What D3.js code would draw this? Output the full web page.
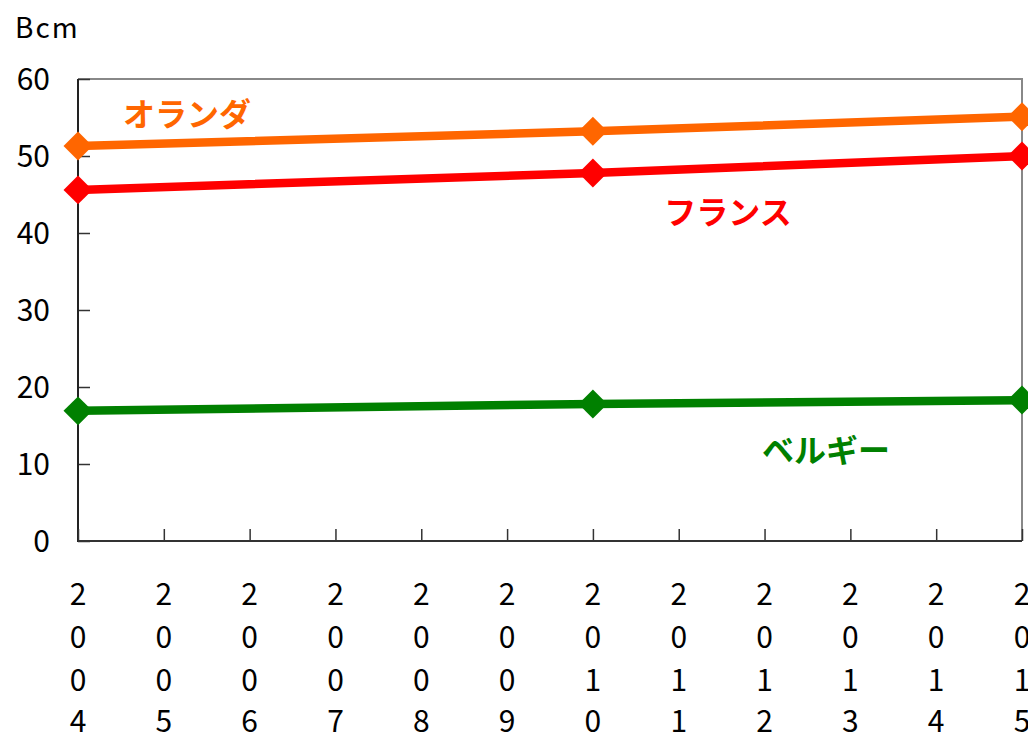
<!DOCTYPE html>
<html>
<head>
<meta charset="utf-8">
<script src="https://cdn.jsdelivr.net/npm/d3@7"></script>
<style>
  html, body { margin: 0; padding: 0; background: #fff; }
  svg { display: block; }
  text { font-family: "Noto Sans CJK JP", "Noto Sans", sans-serif; }
</style>
</head>
<body>
<svg id="chart" width="1028" height="734"></svg>
<script>
// Years on the horizontal axis
const years = [2004, 2005, 2006, 2007, 2008, 2009, 2010, 2011, 2012, 2013, 2014, 2015];
// Years that carry data points
const pointYears = [2004, 2010, 2015];
// Gas volumes in Bcm per country
const netherlands = [51.3, 53.2, 55.1];
const france = [45.6, 47.8, 50.0];
const belgium = [16.9, 17.8, 18.3];
const yTicks = [0, 10, 20, 30, 40, 50, 60];

const seriesList = [
  { name: "オランダ", values: netherlands, color: "#ff6600", lx: 187, ly: 114 },
  { name: "フランス", values: france, color: "#ff0000", lx: 728, ly: 212 },
  { name: "ベルギー", values: belgium, color: "#008000", lx: 826, ly: 450 }
];

const svg = d3.select("#chart");
const plotLeft = 78, plotRight = 1022, plotTop = 79, plotBottom = 541;

const x = d3.scaleLinear().domain([2004, 2015]).range([plotLeft, plotRight]);
const y = d3.scaleLinear().domain([0, 60]).range([plotBottom, plotTop]);

// Frame: top and right in grey
svg.append("path")
  .attr("d", `M${plotLeft},${plotTop}H${plotRight}V${plotBottom}`)
  .attr("fill", "none").attr("stroke", "#888").attr("stroke-width", 2);

// Left axis with inward ticks
const yAxis = d3.axisRight(y).tickValues(yTicks).tickSize(12).tickFormat("");
const gy = svg.append("g").attr("transform", `translate(${plotLeft},0)`).call(yAxis);
gy.select(".domain").remove();
gy.selectAll(".tick line").attr("stroke", "#333").attr("stroke-width", 1.5);
svg.append("line").attr("x1", plotLeft).attr("x2", plotLeft).attr("y1", plotTop).attr("y2", plotBottom + 1)
  .attr("stroke", "#222").attr("stroke-width", 2);

// Y tick labels
svg.append("g").selectAll("text").data(yTicks).join("text")
  .attr("x", 50).attr("y", d => y(d))
  .attr("dy", "0.36em")
  .attr("text-anchor", "end")
  .attr("font-size", 30)
  .attr("fill", "#000")
  .text(d => d);

// Bottom axis with upward ticks
const xAxis = d3.axisTop(x).tickValues(years).tickSize(12).tickFormat("");
const gx = svg.append("g").attr("transform", `translate(0,${plotBottom})`).call(xAxis);
gx.select(".domain").remove();
gx.selectAll(".tick line").attr("stroke", "#333").attr("stroke-width", 1.5);
svg.append("line").attr("x1", plotLeft).attr("x2", plotRight).attr("y1", plotBottom).attr("y2", plotBottom)
  .attr("stroke", "#333").attr("stroke-width", 2);

// Year labels written vertically, one digit per row
const digitRows = [594, 637, 680, 721];
const yl = svg.append("g").selectAll("g").data(years).join("g");
yl.each(function(yr) {
  const digits = String(yr).split("");
  d3.select(this).selectAll("text").data(digits).join("text")
    .attr("x", x(yr)).attr("y", (d, i) => digitRows[i])
    .attr("dy", "0.36em")
    .attr("text-anchor", "middle")
    .attr("font-size", 30)
    .attr("fill", "#000")
    .text(d => d);
});

// Unit label
svg.append("text").attr("x", 15).attr("y", 38)
  .attr("font-size", 28).attr("letter-spacing", 2).attr("fill", "#000").text("Bcm");

// Series lines, diamond markers and labels
const line = d3.line().x((d, i) => x(pointYears[i])).y(d => y(d));
const marker = d3.symbol().type(d3.symbolSquare).size(420);

seriesList.forEach(s => {
  svg.append("path").datum(s.values)
    .attr("d", line)
    .attr("fill", "none").attr("stroke", s.color).attr("stroke-width", 8.5);
  svg.append("g").selectAll("path").data(s.values).join("path")
    .attr("transform", (d, i) => `translate(${x(pointYears[i])},${y(d)}) rotate(45)`)
    .attr("d", marker)
    .attr("fill", s.color);
  svg.append("text").attr("x", s.lx).attr("y", s.ly)
    .attr("dy", "0.36em").attr("text-anchor", "middle")
    .attr("font-size", 32).attr("font-weight", "bold")
    .attr("fill", s.color).text(s.name);
});
</script>
</body>
</html>
